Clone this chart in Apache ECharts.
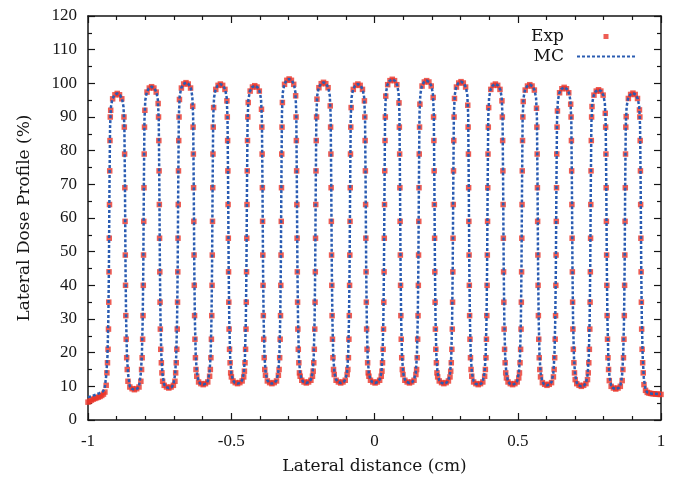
<!DOCTYPE html>
<html><head><meta charset="utf-8">
<script src="https://cdn.jsdelivr.net/npm/echarts@6/dist/echarts.min.js"></script>
<style>html,body{margin:0;padding:0;background:#fff}#c{width:676px;height:486px}</style>
</head><body><div id="c"></div>
<script>
// Monte Carlo curve (x in cm, lateral dose profile in %)
const mcPoints = [
[-1.000,6.8],[-0.990,7.0],[-0.980,7.3],[-0.970,7.6],[-0.960,8.0],[-0.954,8.2],
[-0.948,8.5],[-0.942,9.2],[-0.936,13.5],[-0.932,19],[-0.929,30],[-0.927,45],[-0.925,70],[-0.923,87],[-0.920,93],[-0.915,95.3],[-0.908,96.5],[-0.898,97],[-0.888,96.5],[-0.881,95.3],[-0.876,93],[-0.873,87],[-0.871,70],[-0.869,45],[-0.867,30],[-0.864,19],[-0.860,13.5],[-0.854,10],[-0.848,9.3],[-0.838,9],
[-0.828,9.3],[-0.822,10],[-0.816,13.5],[-0.812,19],[-0.809,30],[-0.807,45],[-0.805,70],[-0.803,89],[-0.800,95],[-0.795,97.3],[-0.788,98.5],[-0.778,99],[-0.768,98.5],[-0.761,97.3],[-0.756,95],[-0.753,89],[-0.751,70],[-0.749,45],[-0.747,30],[-0.744,19],[-0.740,13.5],[-0.734,10.5],[-0.728,9.8],[-0.718,9.5],
[-0.708,9.8],[-0.702,10.5],[-0.696,13.5],[-0.692,19],[-0.689,30],[-0.687,45],[-0.685,70],[-0.683,90.2],[-0.680,96.2],[-0.675,98.5],[-0.668,99.7],[-0.658,100.2],[-0.648,99.7],[-0.641,98.5],[-0.636,96.2],[-0.633,90.2],[-0.631,70],[-0.629,45],[-0.627,30],[-0.624,19],[-0.620,14],[-0.614,11.5],[-0.608,10.8],[-0.598,10.5],
[-0.588,10.8],[-0.582,11.5],[-0.576,14],[-0.572,19],[-0.569,30],[-0.567,45],[-0.565,70],[-0.563,89.8],[-0.560,95.8],[-0.555,98.1],[-0.548,99.3],[-0.538,99.8],[-0.528,99.3],[-0.521,98.1],[-0.516,95.8],[-0.513,89.8],[-0.511,70],[-0.509,45],[-0.507,30],[-0.504,19],[-0.500,14],[-0.494,11.8],[-0.488,11.1],[-0.478,10.8],
[-0.468,11.1],[-0.462,11.8],[-0.456,14],[-0.452,19],[-0.449,30],[-0.447,45],[-0.445,70],[-0.443,89.3],[-0.440,95.3],[-0.435,97.6],[-0.428,98.8],[-0.418,99.3],[-0.408,98.8],[-0.401,97.6],[-0.396,95.3],[-0.393,89.3],[-0.391,70],[-0.389,45],[-0.387,30],[-0.384,19],[-0.380,14],[-0.374,11.8],[-0.368,11.1],[-0.358,10.8],
[-0.348,11.1],[-0.342,11.8],[-0.336,14],[-0.332,19],[-0.329,30],[-0.327,45],[-0.325,70],[-0.323,91.3],[-0.320,97.3],[-0.315,99.6],[-0.308,100.8],[-0.298,101.3],[-0.288,100.8],[-0.281,99.6],[-0.276,97.3],[-0.273,91.3],[-0.271,70],[-0.269,45],[-0.267,30],[-0.264,19],[-0.260,14],[-0.254,12],[-0.248,11.3],[-0.238,11],
[-0.228,11.3],[-0.222,12],[-0.216,14],[-0.212,19],[-0.209,30],[-0.207,45],[-0.205,70],[-0.203,90.3],[-0.200,96.3],[-0.195,98.6],[-0.188,99.8],[-0.178,100.3],[-0.168,99.8],[-0.161,98.6],[-0.156,96.3],[-0.153,90.3],[-0.151,70],[-0.149,45],[-0.147,30],[-0.144,19],[-0.140,14],[-0.134,12],[-0.128,11.3],[-0.118,11],
[-0.108,11.3],[-0.102,12],[-0.096,14],[-0.092,19],[-0.089,30],[-0.087,45],[-0.085,70],[-0.083,89.8],[-0.080,95.8],[-0.075,98.1],[-0.068,99.3],[-0.058,99.8],[-0.048,99.3],[-0.041,98.1],[-0.036,95.8],[-0.033,89.8],[-0.031,70],[-0.029,45],[-0.027,30],[-0.024,19],[-0.020,14],[-0.014,12],[-0.008,11.3],[0.002,11],
[0.012,11.3],[0.018,12],[0.024,14],[0.028,19],[0.031,30],[0.033,45],[0.035,70],[0.037,91.2],[0.040,97.2],[0.045,99.5],[0.052,100.7],[0.062,101.2],[0.072,100.7],[0.079,99.5],[0.084,97.2],[0.087,91.2],[0.089,70],[0.091,45],[0.093,30],[0.096,19],[0.100,14],[0.106,12],[0.112,11.3],[0.122,11],
[0.132,11.3],[0.138,12],[0.144,14],[0.148,19],[0.151,30],[0.153,45],[0.155,70],[0.157,90.8],[0.160,96.8],[0.165,99.1],[0.172,100.3],[0.182,100.8],[0.192,100.3],[0.199,99.1],[0.204,96.8],[0.207,90.8],[0.209,70],[0.211,45],[0.213,30],[0.216,19],[0.220,14],[0.226,11.8],[0.232,11.1],[0.242,10.8],
[0.252,11.1],[0.258,11.8],[0.264,14],[0.268,19],[0.271,30],[0.273,45],[0.275,70],[0.277,90.5],[0.280,96.5],[0.285,98.8],[0.292,100],[0.302,100.5],[0.312,100],[0.319,98.8],[0.324,96.5],[0.327,90.5],[0.329,70],[0.331,45],[0.333,30],[0.336,19],[0.340,14],[0.346,11.5],[0.352,10.8],[0.362,10.5],
[0.372,10.8],[0.378,11.5],[0.384,14],[0.388,19],[0.391,30],[0.393,45],[0.395,70],[0.397,89.8],[0.400,95.8],[0.405,98.1],[0.412,99.3],[0.422,99.8],[0.432,99.3],[0.439,98.1],[0.444,95.8],[0.447,89.8],[0.449,70],[0.451,45],[0.453,30],[0.456,19],[0.460,14],[0.466,11.5],[0.472,10.8],[0.482,10.5],
[0.492,10.8],[0.498,11.5],[0.504,14],[0.508,19],[0.511,30],[0.513,45],[0.515,70],[0.517,89.6],[0.520,95.6],[0.525,97.9],[0.532,99.1],[0.542,99.6],[0.552,99.1],[0.559,97.9],[0.564,95.6],[0.567,89.6],[0.569,70],[0.571,45],[0.573,30],[0.576,19],[0.580,13.8],[0.586,11.3],[0.592,10.6],[0.602,10.3],
[0.612,10.6],[0.618,11.3],[0.624,13.8],[0.628,19],[0.631,30],[0.633,45],[0.635,70],[0.637,88.8],[0.640,94.8],[0.645,97.1],[0.652,98.3],[0.662,98.8],[0.672,98.3],[0.679,97.1],[0.684,94.8],[0.687,88.8],[0.689,70],[0.691,45],[0.693,30],[0.696,19],[0.700,13.5],[0.706,11],[0.712,10.3],[0.722,10],
[0.732,10.3],[0.738,11],[0.744,13.5],[0.748,19],[0.751,30],[0.753,45],[0.755,70],[0.757,88.1],[0.760,94.1],[0.765,96.4],[0.772,97.6],[0.782,98.1],[0.792,97.6],[0.799,96.4],[0.804,94.1],[0.807,88.1],[0.809,70],[0.811,45],[0.813,30],[0.816,19],[0.820,13],[0.826,10.2],[0.832,9.5],[0.842,9.2],
[0.852,9.5],[0.858,10.2],[0.864,13],[0.868,19],[0.871,30],[0.873,45],[0.875,70],[0.877,87.1],[0.880,93.1],[0.885,95.4],[0.892,96.6],[0.902,97.1],[0.912,96.6],[0.919,95.4],[0.924,93.1],[0.927,87.1],[0.929,70],[0.931,45],[0.933,30],[0.936,19],[0.940,12.5],[0.946,9],[0.952,8.2],
[0.960,7.9],[0.970,7.8],[0.980,7.8],[0.990,7.7],[1.000,7.7]
];

// Experimental points (x in cm, lateral dose profile in %)
const expPoints = [
[-1.000,5.3],[-0.994,5.6],[-0.988,5.9],[-0.982,6.2],[-0.976,6.4],[-0.970,6.6],[-0.964,6.8],[-0.958,7.0],[-0.952,7.3],[-0.946,7.7],[-0.941,8.3],
[-0.9365,10.3],[-0.934,14],[-0.932,17],[-0.930,21],[-0.9285,27],[-0.9275,35],[-0.9266,44],[-0.9258,54],[-0.925,64],[-0.9242,74],[-0.9233,83],[-0.9222,90],[-0.9208,92],
[-0.914,95.4],[-0.906,96.6],[-0.898,97],[-0.890,96.6],[-0.882,95.4],
[-0.8745,90],[-0.8732,87],[-0.8722,79],[-0.8714,69],[-0.8706,59],[-0.8698,49],[-0.869,40],[-0.868,31],[-0.8667,24],[-0.865,18.5],[-0.863,15],[-0.8605,11.5],
[-0.854,9.8],[-0.846,9.3],[-0.838,9],[-0.830,9.3],[-0.822,9.8],
[-0.8155,11.5],[-0.813,15],[-0.811,18.5],[-0.8093,24],[-0.808,31],[-0.807,40],[-0.8062,49],[-0.8054,59],[-0.8046,69],[-0.8038,79],[-0.8028,87],[-0.8015,92],
[-0.794,97.4],[-0.786,98.6],[-0.778,99],[-0.770,98.6],[-0.762,97.4],
[-0.7552,94],[-0.7538,90],[-0.7527,83],[-0.7518,74],[-0.751,64],[-0.7502,54],[-0.7494,44],[-0.7485,35],[-0.7475,27],[-0.746,21],[-0.744,17],[-0.742,14],[-0.7395,11.5],
[-0.734,10.3],[-0.726,9.8],[-0.718,9.5],[-0.710,9.8],[-0.702,10.3],
[-0.6965,11.5],[-0.694,14],[-0.692,17],[-0.690,21],[-0.6885,27],[-0.6875,35],[-0.6866,44],[-0.6858,54],[-0.685,64],[-0.6842,74],[-0.6833,83],[-0.6822,90],[-0.6808,95.2],
[-0.674,98.6],[-0.666,99.8],[-0.658,100.2],[-0.650,99.8],[-0.642,98.6],
[-0.6345,93.2],[-0.6332,87],[-0.6322,79],[-0.6314,69],[-0.6306,59],[-0.6298,49],[-0.629,40],[-0.628,31],[-0.6267,24],[-0.625,18.5],[-0.623,15],[-0.6205,13],
[-0.614,11.3],[-0.606,10.8],[-0.598,10.5],[-0.590,10.8],[-0.582,11.3],
[-0.5755,13],[-0.573,15],[-0.571,18.5],[-0.5693,24],[-0.568,31],[-0.567,40],[-0.5662,49],[-0.5654,59],[-0.5646,69],[-0.5638,79],[-0.5628,87],[-0.5615,92.8],
[-0.554,98.2],[-0.546,99.4],[-0.538,99.8],[-0.530,99.4],[-0.522,98.2],
[-0.5152,94.8],[-0.5138,90],[-0.5127,83],[-0.5118,74],[-0.511,64],[-0.5102,54],[-0.5094,44],[-0.5085,35],[-0.5075,27],[-0.506,21],[-0.504,17],[-0.502,14],[-0.4995,12.8],
[-0.494,11.6],[-0.486,11.1],[-0.478,10.8],[-0.470,11.1],[-0.462,11.6],
[-0.4565,12.8],[-0.454,14.5],[-0.452,17],[-0.450,21],[-0.4485,27],[-0.4475,35],[-0.4466,44],[-0.4458,54],[-0.445,64],[-0.4442,74],[-0.4433,83],[-0.4422,90],[-0.4408,94.3],
[-0.434,97.7],[-0.426,98.9],[-0.418,99.3],[-0.410,98.9],[-0.402,97.7],
[-0.3945,92.3],[-0.3932,87],[-0.3922,79],[-0.3914,69],[-0.3906,59],[-0.3898,49],[-0.389,40],[-0.388,31],[-0.3867,24],[-0.385,18.5],[-0.383,15],[-0.3805,13.3],
[-0.374,11.6],[-0.366,11.1],[-0.358,10.8],[-0.350,11.1],[-0.342,11.6],
[-0.3355,13.3],[-0.333,15],[-0.331,18.5],[-0.3293,24],[-0.328,31],[-0.327,40],[-0.3262,49],[-0.3254,59],[-0.3246,69],[-0.3238,79],[-0.3228,87],[-0.3215,94.3],
[-0.314,99.7],[-0.306,100.9],[-0.298,101.3],[-0.290,100.9],[-0.282,99.7],
[-0.2752,96.3],[-0.2738,90],[-0.2727,83],[-0.2718,74],[-0.271,64],[-0.2702,54],[-0.2694,44],[-0.2685,35],[-0.2675,27],[-0.266,21],[-0.264,17],[-0.262,14],[-0.2595,13],
[-0.254,11.8],[-0.246,11.3],[-0.238,11],[-0.230,11.3],[-0.222,11.8],
[-0.2165,13],[-0.214,14.5],[-0.212,17],[-0.210,21],[-0.2085,27],[-0.2075,35],[-0.2066,44],[-0.2058,54],[-0.205,64],[-0.2042,74],[-0.2033,83],[-0.2022,90],[-0.2008,95.3],
[-0.194,98.7],[-0.186,99.9],[-0.178,100.3],[-0.170,99.9],[-0.162,98.7],
[-0.1545,93.3],[-0.1532,87],[-0.1522,79],[-0.1514,69],[-0.1506,59],[-0.1498,49],[-0.149,40],[-0.148,31],[-0.1467,24],[-0.145,18.5],[-0.143,15],[-0.1405,13.5],
[-0.134,11.8],[-0.126,11.3],[-0.118,11],[-0.110,11.3],[-0.102,11.8],
[-0.0955,13.5],[-0.093,15],[-0.091,18.5],[-0.0893,24],[-0.088,31],[-0.087,40],[-0.0862,49],[-0.0854,59],[-0.0846,69],[-0.0838,79],[-0.0828,87],[-0.0815,92.8],
[-0.074,98.2],[-0.066,99.4],[-0.058,99.8],[-0.050,99.4],[-0.042,98.2],
[-0.0352,94.8],[-0.0338,90],[-0.0327,83],[-0.0318,74],[-0.031,64],[-0.0302,54],[-0.0294,44],[-0.0285,35],[-0.0275,27],[-0.026,21],[-0.024,17],[-0.022,14],[-0.0195,13],
[-0.014,11.8],[-0.006,11.3],[0.002,11],[0.010,11.3],[0.018,11.8],
[0.0235,13],[0.026,14.5],[0.028,17],[0.030,21],[0.0315,27],[0.0325,35],[0.0334,44],[0.0342,54],[0.035,64],[0.0358,74],[0.0367,83],[0.0378,90],[0.0392,96.2],
[0.046,99.6],[0.054,100.8],[0.062,101.2],[0.070,100.8],[0.078,99.6],
[0.0855,94.2],[0.0868,87],[0.0878,79],[0.0886,69],[0.0894,59],[0.0902,49],[0.091,40],[0.092,31],[0.0933,24],[0.095,18.5],[0.097,15],[0.0995,13.5],
[0.106,11.8],[0.114,11.3],[0.122,11],[0.130,11.3],[0.138,11.8],
[0.1445,13.5],[0.147,15],[0.149,18.5],[0.1507,24],[0.152,31],[0.153,40],[0.1538,49],[0.1546,59],[0.1554,69],[0.1562,79],[0.1572,87],[0.1585,93.8],
[0.166,99.2],[0.174,100.4],[0.182,100.8],[0.190,100.4],[0.198,99.2],
[0.2048,95.8],[0.2062,90],[0.2073,83],[0.2082,74],[0.209,64],[0.2098,54],[0.2106,44],[0.2115,35],[0.2125,27],[0.214,21],[0.216,17],[0.218,14],[0.2205,12.8],
[0.226,11.6],[0.234,11.1],[0.242,10.8],[0.250,11.1],[0.258,11.6],
[0.2635,12.8],[0.266,14.5],[0.268,17],[0.270,21],[0.2715,27],[0.2725,35],[0.2734,44],[0.2742,54],[0.275,64],[0.2758,74],[0.2767,83],[0.2778,90],[0.2792,95.5],
[0.286,98.9],[0.294,100.1],[0.302,100.5],[0.310,100.1],[0.318,98.9],
[0.3255,93.5],[0.3268,87],[0.3278,79],[0.3286,69],[0.3294,59],[0.3302,49],[0.331,40],[0.332,31],[0.3333,24],[0.335,18.5],[0.337,15],[0.3395,13],
[0.346,11.3],[0.354,10.8],[0.362,10.5],[0.370,10.8],[0.378,11.3],
[0.3845,13],[0.387,15],[0.389,18.5],[0.3907,24],[0.392,31],[0.393,40],[0.3938,49],[0.3946,59],[0.3954,69],[0.3962,79],[0.3972,87],[0.3985,92.8],
[0.406,98.2],[0.414,99.4],[0.422,99.8],[0.430,99.4],[0.438,98.2],
[0.4448,94.8],[0.4462,90],[0.4473,83],[0.4482,74],[0.449,64],[0.4498,54],[0.4506,44],[0.4515,35],[0.4525,27],[0.454,21],[0.456,17],[0.458,14],[0.4605,12.5],
[0.466,11.3],[0.474,10.8],[0.482,10.5],[0.490,10.8],[0.498,11.3],
[0.5035,12.5],[0.506,14],[0.508,17],[0.510,21],[0.5115,27],[0.5125,35],[0.5134,44],[0.5142,54],[0.515,64],[0.5158,74],[0.5167,83],[0.5178,90],[0.5192,94.6],
[0.526,98],[0.534,99.2],[0.542,99.6],[0.550,99.2],[0.558,98],
[0.5655,92.6],[0.5668,87],[0.5678,79],[0.5686,69],[0.5694,59],[0.5702,49],[0.571,40],[0.572,31],[0.5733,24],[0.575,18.5],[0.577,15],[0.5795,12.8],
[0.586,11.1],[0.594,10.6],[0.602,10.3],[0.610,10.6],[0.618,11.1],
[0.6245,12.8],[0.627,15],[0.629,18.5],[0.6307,24],[0.632,31],[0.633,40],[0.6338,49],[0.6346,59],[0.6354,69],[0.6362,79],[0.6372,87],[0.6385,91.8],
[0.646,97.2],[0.654,98.4],[0.662,98.8],[0.670,98.4],[0.678,97.2],
[0.6848,93.8],[0.6862,90],[0.6873,83],[0.6882,74],[0.689,64],[0.6898,54],[0.6906,44],[0.6915,35],[0.6925,27],[0.694,21],[0.696,17],[0.698,14],[0.7005,12],
[0.706,10.8],[0.714,10.3],[0.722,10],[0.730,10.3],[0.738,10.8],
[0.7435,12],[0.746,14],[0.748,17],[0.750,21],[0.7515,27],[0.7525,35],[0.7534,44],[0.7542,54],[0.755,64],[0.7558,74],[0.7567,83],[0.7578,90],[0.7592,93.1],
[0.766,96.5],[0.774,97.7],[0.782,98.1],[0.790,97.7],[0.798,96.5],
[0.8055,91.1],[0.8068,87],[0.8078,79],[0.8086,69],[0.8094,59],[0.8102,49],[0.811,40],[0.812,31],[0.8133,24],[0.815,18.5],[0.817,15],[0.8195,11.7],
[0.826,10],[0.834,9.5],[0.842,9.2],[0.850,9.5],[0.858,10],
[0.8645,11.7],[0.867,15],[0.869,18.5],[0.8707,24],[0.872,31],[0.873,40],[0.8738,49],[0.8746,59],[0.8754,69],[0.8762,79],[0.8772,87],[0.8785,90.1],
[0.886,95.5],[0.894,96.7],[0.902,97.1],[0.910,96.7],[0.918,95.5],
[0.9248,92.1],[0.9262,90],[0.9273,83],[0.9282,74],[0.929,64],[0.9298,54],[0.9306,44],[0.9315,35],[0.9325,27],[0.934,21],[0.936,17],[0.938,14],[0.9405,10.5],
[0.946,8.8],[0.952,8.2],[0.958,8.0],[0.964,7.9],[0.970,7.8],[0.976,7.8],[0.982,7.7],[0.988,7.7],[0.994,7.6],[1.000,7.6]
];

const xRange = [-1, 1];
const yRange = [0, 120];
const seriesNames = ['Exp', 'MC'];
const xTitle = 'Lateral distance (cm)';
const yTitle = 'Lateral Dose Profile (%)';

const tickFont = 'Liberation Serif';
const nameFont = 'DejaVu Serif';
const ink = '#151515';

function axisBase(extra) {
  return Object.assign({
    type: 'value',
    axisLine: { show: true, onZero: false, lineStyle: { color: ink, width: 1.5 } },
    axisTick: { show: true, inside: true, length: 7, lineStyle: { color: ink, width: 1.2 } },
    minorTick: { show: true, length: 4, lineStyle: { color: ink, width: 1.2 } },
    splitLine: { show: false },
    minorSplitLine: { show: false }
  }, extra);
}

const chart = echarts.init(document.getElementById('c'), null, { renderer: 'canvas' });
chart.setOption({
  animation: false,
  backgroundColor: '#ffffff',
  grid: { left: 88, right: 15, top: 16, bottom: 66 },
  legend: {
    orient: 'vertical', right: 35, top: 23, align: 'right',
    itemWidth: 58, itemHeight: 5, itemGap: 3,
    textStyle: { fontFamily: nameFont, fontSize: 17, color: ink, padding: [0, 8, 0, 0] },
    data: [
      { name: seriesNames[0], icon: 'path://M0,0H10V10H0Z' },
      { name: seriesNames[1], itemStyle: { color: 'rgba(0,0,0,0)', borderWidth: 0, opacity: 0 } }
    ]
  },
  xAxis: [
    axisBase({
      min: xRange[0], max: xRange[1], interval: 0.5, position: 'bottom',
      minorTick: { show: true, splitNumber: 5, length: 4, lineStyle: { color: ink, width: 1.2 } },
      axisLabel: { margin: 13, fontFamily: tickFont, fontSize: 17, color: ink },
      name: xTitle, nameLocation: 'middle', nameGap: 38,
      nameTextStyle: { fontFamily: nameFont, fontSize: 17, color: ink }
    }),
    axisBase({
      min: xRange[0], max: xRange[1], interval: 0.5, position: 'top',
      minorTick: { show: true, splitNumber: 5, length: 4, lineStyle: { color: ink, width: 1.2 } },
      axisLabel: { show: false }
    })
  ],
  yAxis: [
    axisBase({
      min: yRange[0], max: yRange[1], interval: 10, position: 'left',
      minorTick: { show: true, splitNumber: 2, length: 4, lineStyle: { color: ink, width: 1.2 } },
      axisLabel: { margin: 11, fontFamily: tickFont, fontSize: 17, color: ink },
      name: yTitle, nameLocation: 'middle', nameGap: 55, nameRotate: 90,
      nameTextStyle: { fontFamily: nameFont, fontSize: 17, color: ink }
    }),
    axisBase({
      min: yRange[0], max: yRange[1], interval: 10, position: 'right',
      minorTick: { show: true, splitNumber: 2, length: 4, lineStyle: { color: ink, width: 1.2 } },
      axisLabel: { show: false }
    })
  ],
  series: [
    {
      name: seriesNames[0], type: 'scatter', data: expPoints,
      symbol: 'rect', symbolSize: 5.5,
      itemStyle: { color: '#ea3429' }, z: 2
    },
    {
      name: seriesNames[1], type: 'line', data: mcPoints,
      symbol: 'none', showSymbol: false,
      lineStyle: { color: '#2a5cb2', width: 2.5, type: [3, 2] },
      itemStyle: { color: '#2a5cb2' }, z: 3
    }
  ]
});
</script>
</body></html>
